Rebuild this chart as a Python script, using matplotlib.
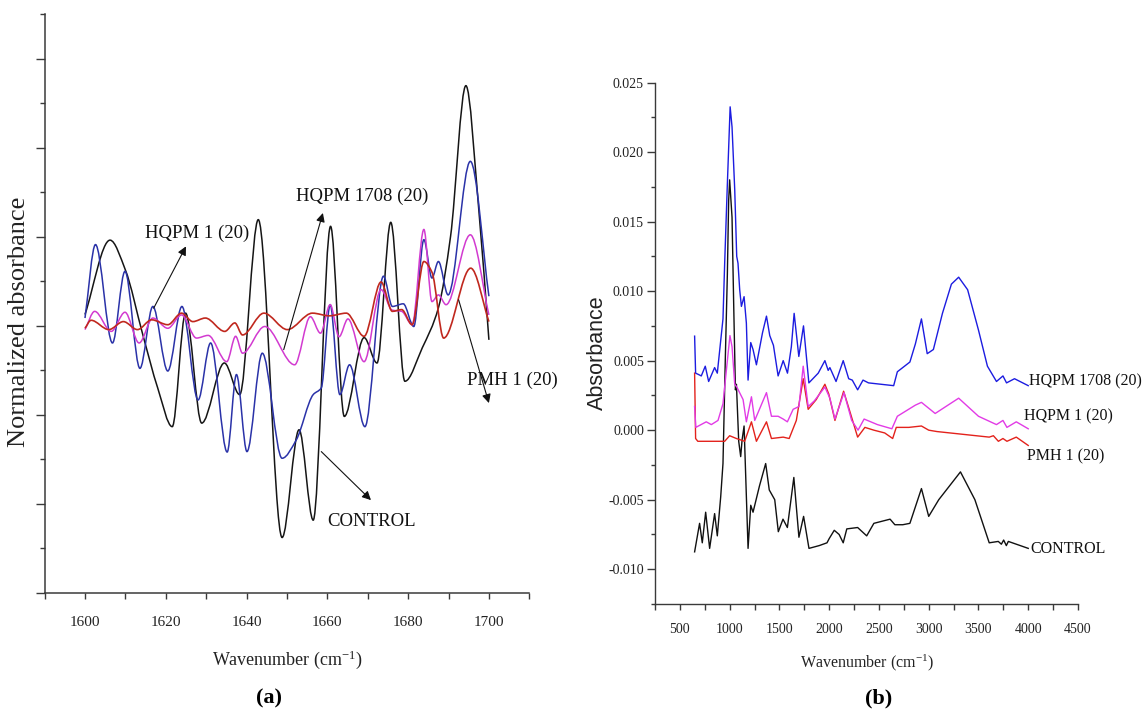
import numpy as np
import matplotlib
matplotlib.use("Agg")
import matplotlib.pyplot as plt
from matplotlib.path import Path
from matplotlib.patches import PathPatch

plt.rcParams['font.family'] = ['Liberation Serif', 'DejaVu Serif']
plt.rcParams['mathtext.fontset'] = 'custom'
plt.rcParams['mathtext.rm'] = 'Liberation Serif'
plt.rcParams['mathtext.it'] = 'Liberation Serif:italic'
plt.rcParams['axes.unicode_minus'] = False

# ---------------- panel (a): normalized absorbance, 1600-1700 cm-1 ----------------
a_control_x = [1600, 1606.2, 1610, 1614.3, 1618, 1621.6, 1624.9, 1628.9, 1634.5, 1638.3, 1642.9,
               1648.8, 1653.0, 1656.5, 1660.8, 1664.2, 1669.1, 1672.3, 1675.7, 1679.2, 1683.5,
               1687.5, 1690.5, 1694.3, 1697.5, 1700]
a_control_y = [6.25, 7.92, 7.25, 5.8, 4.6, 3.73, 6.28, 3.81, 5.16, 4.45, 8.38,
               1.24, 3.66, 1.63, 8.23, 3.96, 5.73, 5.16, 8.32, 4.75, 5.5,
               6.4, 8.0, 11.39, 8.6, 5.68]

a_hqpm1708_x = [1600, 1602.6, 1606.8, 1609.9, 1613.6, 1616.8, 1620.5, 1624.0, 1628.0, 1631.1,
                1635.2, 1637.5, 1640.1, 1643.9, 1648.8, 1652.3, 1656.5, 1658.5, 1660.7, 1663.1,
                1665.5, 1669.3, 1673.9, 1676.1, 1678.8, 1681.4, 1683.9, 1685.9, 1687.5, 1689.9,
                1695.4, 1700]
a_hqpm1708_y = [6.17, 7.82, 5.61, 7.22, 5.04, 6.43, 4.98, 6.43, 4.33, 5.61,
                3.16, 4.9, 3.17, 5.38, 3.02, 3.43, 4.45, 4.6, 6.47, 4.45,
                5.12, 3.73, 7.11, 6.43, 6.49, 5.98, 7.93, 7.07, 7.44, 6.69,
                9.69, 6.66]

a_hqpm1_x = [1600, 1602.4, 1606.5, 1609.9, 1613.4, 1616.8, 1620.5, 1623.9, 1627.6, 1630.5,
             1635.1, 1637.3, 1639.0, 1644.5, 1651.9, 1655.8, 1658.3, 1660.7, 1662.9, 1665.1,
             1669.1, 1673.3, 1676.0, 1678.4, 1681.0, 1683.9, 1685.9, 1687.5, 1689.4, 1695.4, 1700]
a_hqpm1_y = [5.91, 6.32, 5.87, 6.30, 5.61, 6.17, 5.94, 6.24, 5.72, 5.78,
             5.19, 5.76, 5.38, 5.98, 5.12, 6.2, 5.83, 6.47, 5.75, 6.15,
             5.19, 6.81, 6.35, 6.32, 6.02, 8.16, 6.54, 6.69, 6.47, 8.04, 6.24]

a_pmh1_x = [1600, 1601.5, 1605.9, 1609.5, 1613.0, 1616.5, 1620.5, 1623.9, 1626.7, 1629.8,
            1634.6, 1637.1, 1639.0, 1644.3, 1650.1, 1656.3, 1660.5, 1664.7, 1669.1, 1673.3,
            1676.1, 1678.4, 1681.0, 1683.9, 1685.9, 1688.8, 1695.5, 1700]
a_pmh1_y = [5.94, 6.12, 5.91, 6.09, 5.91, 6.13, 6.02, 6.28, 6.09, 6.17,
            5.87, 6.06, 5.79, 6.28, 5.91, 6.28, 6.22, 6.28, 5.76, 6.98,
            6.32, 6.36, 6.02, 7.44, 7.2, 5.72, 7.29, 6.09]

a_xticks = [1600, 1620, 1640, 1660, 1680, 1700]

# ---------------- panel (b): absorbance spectra ----------------
b_hqpm1708_x = [648, 658, 688, 715, 755, 789, 849, 876, 933, 950, 977, 1005, 1024, 1051, 1071, 1084,
                1101, 1118, 1145, 1168, 1185, 1212, 1235, 1269, 1330, 1370, 1403, 1440, 1487, 1538,
                1581, 1620, 1648, 1695, 1742, 1796, 1890, 1957, 1990, 2007, 2069, 2141, 2196, 2232,
                2286, 2340, 2395, 2648, 2685, 2757, 2811, 2866, 2927, 2985, 3047, 3138, 3228, 3301,
                3391, 3500, 3590, 3681, 3746, 3782, 3862, 4000]
b_hqpm1708_y = [0.00676, 0.0041, 0.0040, 0.0039, 0.0046, 0.0035, 0.0045, 0.0041, 0.0080, 0.0120,
                0.0177, 0.02325, 0.0218, 0.0173, 0.0125, 0.0120, 0.0101, 0.0089, 0.0096, 0.0077,
                0.0036, 0.0063, 0.0058, 0.0047, 0.0070, 0.0082, 0.0068, 0.0061, 0.0039, 0.0050,
                0.0041, 0.0060, 0.0084, 0.0053, 0.0075, 0.0034, 0.0041, 0.0050, 0.0043, 0.0045,
                0.0035, 0.0050, 0.0037, 0.0036, 0.0029, 0.0036, 0.0034, 0.0032, 0.0042, 0.0046,
                0.0049, 0.0062, 0.0080, 0.0055, 0.0058, 0.0084, 0.0105, 0.0110, 0.0101, 0.0072,
                0.0046, 0.0035, 0.0039, 0.0034, 0.0037, 0.0032]

b_hqpm1_x = [648, 660, 765, 816, 883, 933, 967, 1003, 1024, 1051, 1072, 1135, 1168, 1219, 1252,
             1370, 1420, 1487, 1538, 1580, 1638, 1696, 1739, 1789, 1850, 1957, 2007, 2058, 2149,
             2226, 2290, 2351, 2485, 2630, 2685, 2866, 2927, 3065, 3301, 3500, 3681, 3746, 3786,
             3880, 4000]
b_hqpm1_y = [0.0017, 0.0002, 0.0006, 0.0004, 0.0007, 0.0019, 0.0043, 0.0068, 0.0060, 0.0033,
             0.0031, 0.0022, 0.0006, 0.0024, 0.0007, 0.0027, 0.0010, 0.0010, 0.0008, 0.0006,
             0.0015, 0.0017, 0.0046, 0.0017, 0.0021, 0.0031, 0.0023, 0.0008, 0.0027, 0.0007,
             0.0000, 0.0008, 0.0004, 0.0001, 0.0010, 0.0018, 0.0020, 0.0012, 0.0023, 0.0010,
             0.0004, 0.0007, 0.0002, 0.0006, 0.0001]

b_pmh1_x = [648, 658, 680, 950, 1000, 1068, 1151, 1219, 1269, 1370, 1420, 1538, 1598, 1670,
            1739, 1789, 1870, 1957, 1996, 2058, 2145, 2214, 2286, 2359, 2449, 2558, 2638, 2674,
            2800, 2927, 3000, 3083, 3608, 3650, 3700, 3746, 3786, 3880, 4000]
b_pmh1_y = [0.0041, -0.0006, -0.0008, -0.0008, -0.0004, -0.0006, -0.0008, 0.0006, -0.0008, 0.0006,
            -0.0006, -0.0005, -0.0006, 0.0007, 0.0037, 0.0015, 0.0022, 0.0033, 0.0026, 0.0007,
            0.0028, 0.0012, -0.0005, 0.0002, 0.0000, -0.0002, -0.0006, 0.0002, 0.0002, 0.0003,
            0.0000, -0.0001, -0.0005, -0.0004, -0.0008, -0.0006, -0.0008, -0.0005, -0.0011]

b_control_x = [648, 698, 725, 759, 799, 849, 876, 910, 933, 957, 977, 990, 1000, 1024, 1041, 1058,
               1068, 1091, 1111, 1125, 1145, 1160, 1185, 1212, 1235, 1300, 1362, 1398, 1453, 1489,
               1536, 1580, 1645, 1696, 1743, 1797, 1900, 1978, 2000, 2051, 2100, 2141, 2177, 2286,
               2377, 2449, 2612, 2660, 2739, 2811, 2927, 3000, 3101, 3319, 3464, 3608, 3699, 3730,
               3753, 3780, 3800, 4000]
b_control_y = [-0.00875, -0.0067, -0.0081, -0.0059, -0.0085, -0.0060, -0.0076, -0.0048, -0.0024,
               0.0053, 0.0112, 0.0165, 0.0180, 0.0153, 0.0089, 0.0029, 0.0033, -0.0008, -0.0019,
               -0.0007, 0.0003, -0.0030, -0.0085, -0.0054, -0.0059, -0.0040, -0.0024, -0.0043,
               -0.0050, -0.0073, -0.0064, -0.0070, -0.0034, -0.0077, -0.0062, -0.0085, -0.0083,
               -0.0081, -0.0078, -0.0072, -0.0075, -0.0081, -0.0071, -0.0070, -0.0076, -0.0067,
               -0.0064, -0.0068, -0.0068, -0.0067, -0.0042, -0.0062, -0.0050, -0.0030, -0.0050,
               -0.0081, -0.0080, -0.0082, -0.0079, -0.0083, -0.0080, -0.0085]

b_xticks = [500, 1000, 1500, 2000, 2500, 3000, 3500, 4000, 4500]
b_yticks = [-0.010, -0.005, 0.000, 0.005, 0.010, 0.015, 0.020, 0.025]
b_yticklabels = ['-0.010', '-0.005', '0.000', '0.005', '0.010', '0.015', '0.020', '0.025']


def smooth_path(x, y):
    """Monotone cubic (PCHIP-style) Bezier path through the read points."""
    x = np.asarray(x, float)
    y = np.asarray(y, float)
    h = np.diff(x)
    d = np.diff(y) / h
    m = np.zeros_like(x)
    m[0], m[-1] = d[0], d[-1]
    for i in range(1, len(x) - 1):
        if d[i - 1] * d[i] <= 0:
            m[i] = 0.0
        else:
            w1 = 2 * h[i] + h[i - 1]
            w2 = h[i] + 2 * h[i - 1]
            m[i] = (w1 + w2) / (w1 / d[i - 1] + w2 / d[i])
    verts = [(x[0], y[0])]
    codes = [Path.MOVETO]
    for i in range(len(x) - 1):
        verts += [(x[i] + h[i] / 3, y[i] + m[i] * h[i] / 3),
                  (x[i + 1] - h[i] / 3, y[i + 1] - m[i + 1] * h[i] / 3),
                  (x[i + 1], y[i + 1])]
        codes += [Path.CURVE4] * 3
    return Path(verts, codes)


W, H = 1146, 710
fig = plt.figure(figsize=(W / 100, H / 100), dpi=100)

spine_col = '#3a3a3a'

# ---------------- left axes ----------------
axL = fig.add_axes([44.6 / W, 1 - 592.7 / H, (529.3 - 44.6) / W, (592.7 - 14) / H])
axL.set_xlim(1590, 1710)
axL.set_ylim(0, 13)
for s in ['top', 'right']:
    axL.spines[s].set_visible(False)
for s in ['left', 'bottom']:
    axL.spines[s].set_color(spine_col)
    axL.spines[s].set_linewidth(1.1)

for xs, ys, col, lw in [(a_control_x, a_control_y, '#151515', 1.1),
                        (a_hqpm1708_x, a_hqpm1708_y, '#2a32a8', 1.1),
                        (a_hqpm1_x, a_hqpm1_y, '#d23ad0', 1.1),
                        (a_pmh1_x, a_pmh1_y, '#c0281e', 1.2)]:
    axL.add_patch(PathPatch(smooth_path(xs, ys), facecolor='none', edgecolor=col,
                            lw=lw, transform=axL.transData))

axL.set_xticks(a_xticks)
axL.set_xticklabels([str(v) for v in a_xticks])
axL.set_xticks([1590, 1610, 1630, 1650, 1670, 1690, 1710], minor=True)
axL.set_yticks([0, 2, 4, 6, 8, 10, 12])
axL.set_yticklabels([])
axL.set_yticks([1, 3, 5, 7, 9, 11, 13], minor=True)
axL.tick_params(axis='x', which='both', direction='out', length=4.5, width=1.0,
                color=spine_col, labelsize=11, pad=12, labelcolor='#222222')
axL.tick_params(axis='y', which='major', direction='out', length=6.5, width=1.0, color=spine_col)
axL.tick_params(axis='y', which='minor', direction='out', length=3.5, width=1.0, color=spine_col)

arrow_kw = dict(arrowstyle='-|>', color='#111111', lw=0.8, mutation_scale=13,
                shrinkA=0, shrinkB=0)
axL.annotate('', xy=(1625.0, 7.78), xytext=(1617.0, 6.39), arrowprops=arrow_kw)
axL.text(1627.8, 8.08, 'HQPM 1 (20)', fontsize=13.5, ha='center', va='center', color='#111111')
axL.annotate('', xy=(1658.9, 8.53), xytext=(1649.2, 5.46), arrowprops=arrow_kw)
axL.text(1668.6, 8.9, 'HQPM 1708 (20)', fontsize=13.5, ha='center', va='center', color='#111111')
axL.annotate('', xy=(1700.0, 4.26), xytext=(1692.5, 6.58), arrowprops=arrow_kw,
             annotation_clip=False)
axL.text(1705.7, 4.78, 'PMH 1 (20)', fontsize=13.5, ha='center', va='center', color='#111111',
         clip_on=False)
axL.annotate('', xy=(1670.8, 2.08), xytext=(1658.5, 3.17), arrowprops=arrow_kw)
axL.text(1671.0, 1.6, 'CONTROL', fontsize=13.5, ha='center', va='center', color='#111111')

fig.text(287.5 / W, 1 - 660 / H, 'Wavenumber (cm$^{-1}$)', fontsize=13, ha='center', va='center',
         color='#222222')
fig.text(19 / W, 1 - 322 / H, 'Normalized absorbance', fontsize=19, rotation=90,
         ha='center', va='center', color='#222222')
fig.text(269 / W, 1 - 698 / H, '(a)', fontsize=16, fontweight='bold', ha='center', va='center')

# ---------------- right axes ----------------
axR = fig.add_axes([655 / W, 1 - 604 / H, (1078 - 655) / W, (604 - 82.5) / H])
axR.set_xlim(250, 4500)
axR.set_ylim(-0.0125, 0.025)
for s in ['top', 'right']:
    axR.spines[s].set_visible(False)
for s in ['left', 'bottom']:
    axR.spines[s].set_color(spine_col)
    axR.spines[s].set_linewidth(1.0)

axR.plot(b_control_x, b_control_y, color='#111111', lw=1.0)
axR.plot(b_pmh1_x, b_pmh1_y, color='#e3221c', lw=1.0)
axR.plot(b_hqpm1_x, b_hqpm1_y, color='#e23be6', lw=1.0)
axR.plot(b_hqpm1708_x, b_hqpm1708_y, color='#1c1ce0', lw=1.0)

axR.set_xticks(b_xticks)
axR.set_xticklabels([str(v) for v in b_xticks])
axR.set_xticks([250, 750, 1250, 1750, 2250, 2750, 3250, 3750, 4250], minor=True)
axR.set_yticks(b_yticks)
axR.set_yticklabels(b_yticklabels)
axR.set_yticks([-0.0125, -0.0075, -0.0025, 0.0025, 0.0075, 0.0125, 0.0175, 0.0225], minor=True)
axR.tick_params(axis='x', which='both', direction='out', length=4.5, width=1.0,
                color=spine_col, labelsize=10, pad=9, labelcolor='#222222')
axR.tick_params(axis='y', which='major', direction='out', length=5.5, width=1.0,
                color=spine_col, labelsize=10, pad=2.5, labelcolor='#222222')
axR.tick_params(axis='y', which='minor', direction='out', length=3, width=1.0, color=spine_col)

axR.text(4010, 0.0035, 'HQPM 1708 (20)', fontsize=11.5, ha='left', va='center', color='#111111')
axR.text(3953, 0.00096, 'HQPM 1 (20)', fontsize=11.5, ha='left', va='center', color='#111111')
axR.text(3989, -0.00187, 'PMH 1 (20)', fontsize=11.5, ha='left', va='center', color='#111111')
axR.text(4025, -0.00855, 'CONTROL', fontsize=11.5, ha='left', va='center', color='#111111')

fig.text(866.7 / W, 1 - 663 / H, 'Wavenumber (cm$^{-1}$)', fontsize=11.5, ha='center',
         va='center', color='#222222')
fig.text(597 / W, 1 - 353 / H, 'Absorbance', fontsize=15.5, rotation=90, ha='center', va='center',
         family=['Liberation Sans', 'DejaVu Sans'], color='#222222')
fig.text(879 / W, 1 - 698 / H, '(b)', fontsize=16, fontweight='bold', ha='center', va='center')

fig.savefig('out.png', dpi=100)
